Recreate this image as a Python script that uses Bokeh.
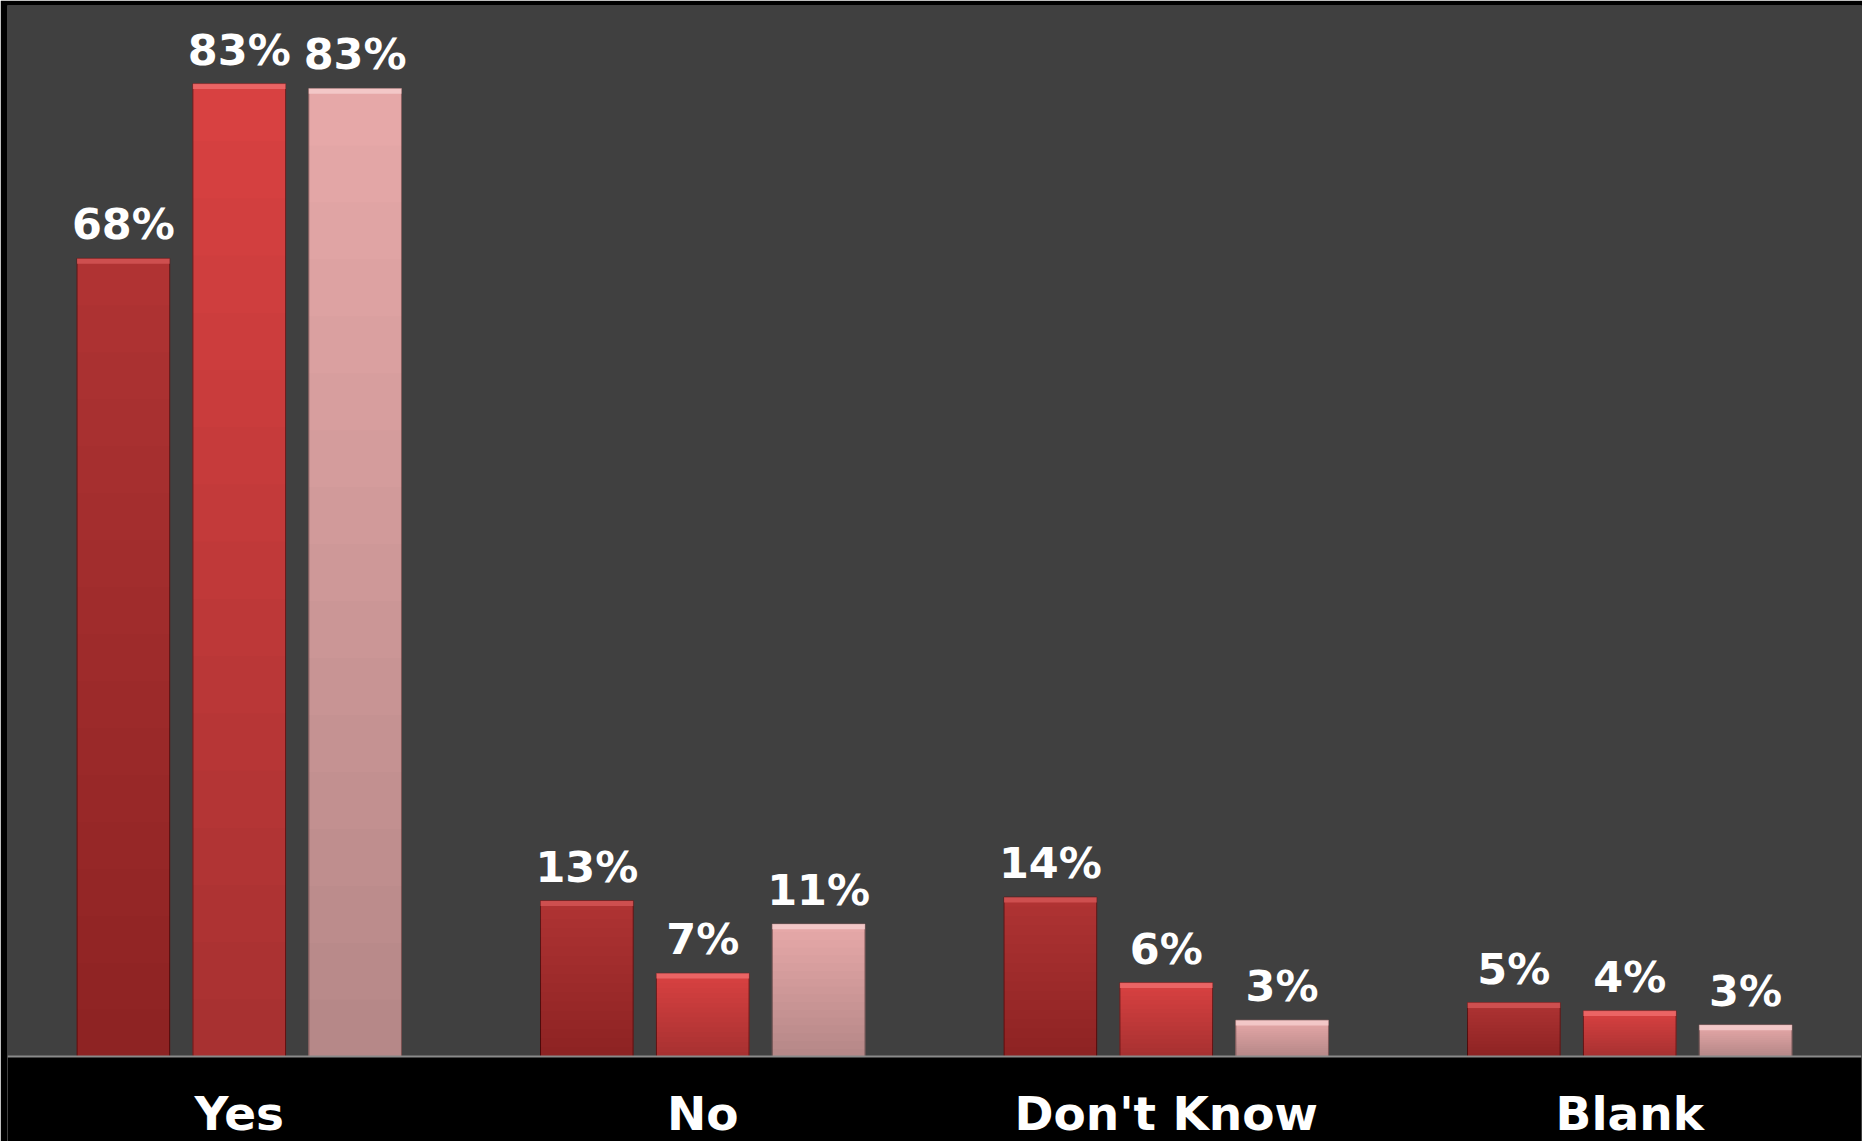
from bokeh.plotting import figure
from bokeh.models import FactorRange, Range1d, BoxAnnotation, Span, ColumnDataSource
from bokeh.transform import dodge
from bokeh.core.properties import value
from bokeh.embed import file_html
from bokeh.resources import INLINE
import numpy as np

# ---- data (percent) ----
categories = ["Yes", "No", "Don't Know", "Blank"]
series_1 = [68.1, 13.3, 13.6, 4.6]
series_2 = [83.0, 7.1, 6.3, 3.9]
series_3 = [82.6, 11.3, 3.1, 2.7]

series = [series_1, series_2, series_3]
offsets = [-0.25, 0.0, 0.25]
base_colors = ["#b03333", "#d84141", "#e6a8a8"]
hi_colors = ["#d85a5a", "#f27070", "#f7d2d2"]
edge_colors = ["#5c1818", "#6e1f1f", "#8a6262"]

FONT = value("DejaVu Sans")

p = figure(
    x_range=FactorRange(factors=categories, range_padding=0),
    y_range=Range1d(-7.25, 89.68),
    width=1862, height=1141,
    output_backend="svg", toolbar_location=None,
    x_axis_location=None, y_axis_location=None,
    min_border_left=7, min_border_right=1, min_border_top=5, min_border_bottom=0,
    background_fill_color="black", border_fill_color="black",
    outline_line_color=None,
)
p.grid.visible = False

# plot-area background above the baseline
p.add_layout(BoxAnnotation(bottom=0, fill_color="#404040", fill_alpha=1.0,
                           line_color=None, level="underlay"))

N = 16
for vals, off, base, hi, edge in zip(series, offsets, base_colors, hi_colors, edge_colors):
    v = np.array(vals, dtype=float)
    src = ColumnDataSource(dict(cat=categories, val=v,
                                label=[f"{int(round(x))}%" for x in v]))
    xs = dodge("cat", off, range=p.x_range)
    p.vbar(x=xs, top="val", bottom=0, width=0.2, source=src,
           fill_color=base, line_color=edge, line_width=1)
    # vertical shading of each bar (darker towards the bottom)
    for k in range(1, N + 1):
        s = ColumnDataSource(dict(cat=categories, t=v * (1 - k / (N + 1))))
        p.vbar(x=xs, top="t", bottom=0, width=0.2, source=s,
               fill_color="black", fill_alpha=0.0135, line_color=None)
    # bevel highlight at the top of each bar
    hs = ColumnDataSource(dict(cat=categories, t=v, b=np.maximum(v - 0.45, 0)))
    p.vbar(x=xs, top="t", bottom="b", width=0.2, source=hs,
           fill_color=hi, fill_alpha=0.75, line_color=None)
    # value labels
    p.text(x=xs, y="val", text="label", source=src,
           text_align="center", text_baseline="alphabetic", y_offset=-34,
           text_color="white", text_font=FONT, text_font_style="bold",
           text_font_size="43px")

# baseline
p.add_layout(Span(location=0, dimension="width", line_color="#8a8a8a", line_width=2))

# category labels
cs = ColumnDataSource(dict(cat=categories, y=[0] * len(categories)))
p.text(x="cat", y="y", text="cat", source=cs,
       text_align="center", text_baseline="alphabetic", y_offset=57,
       text_color="white", text_font=FONT, text_font_style="bold",
       text_font_size="47px")

open("out.html", "w").write(file_html(p, INLINE))
